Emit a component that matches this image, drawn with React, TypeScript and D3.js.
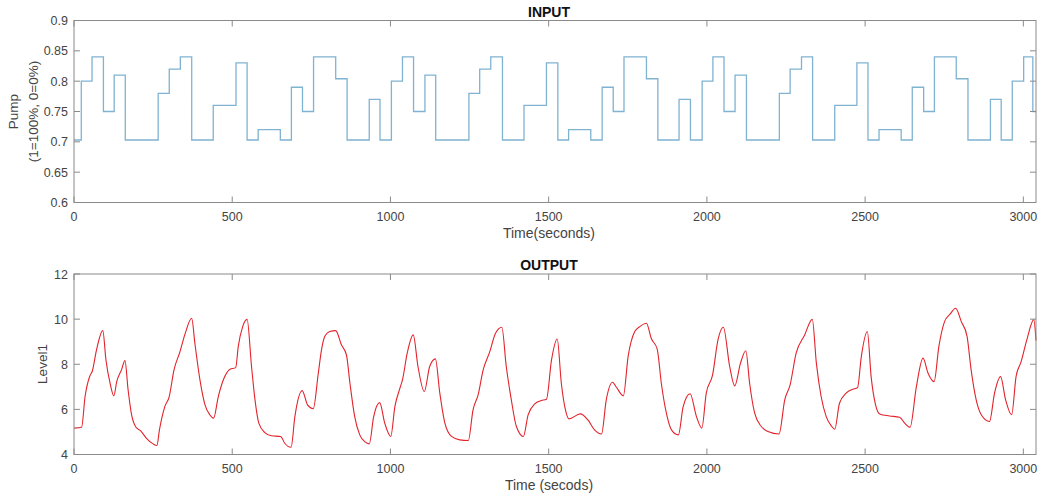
import React from "react";
import * as d3 from "d3";

const inputTimes = [0, 23, 57, 93, 127, 162, 266, 301, 336, 372, 440, 512, 547, 582, 652, 687, 722, 757, 827, 863, 933, 967, 1003, 1038, 1073, 1109, 1143, 1248, 1282, 1317, 1354, 1422, 1493, 1529, 1563, 1633, 1669, 1704, 1738, 1809, 1845, 1912, 1948, 1985, 2019, 2054, 2089, 2125, 2229, 2263, 2299, 2334, 2404, 2474, 2509, 2544, 2614, 2649, 2685, 2719, 2788, 2825, 2896, 2930, 2965, 3001, 3030, 3040];
const inputLevels = [0.703, 0.80, 0.84, 0.75, 0.81, 0.703, 0.78, 0.82, 0.84, 0.703, 0.76, 0.83, 0.703, 0.72, 0.703, 0.79, 0.75, 0.84, 0.804, 0.703, 0.77, 0.703, 0.80, 0.84, 0.75, 0.81, 0.703, 0.78, 0.82, 0.84, 0.703, 0.76, 0.83, 0.703, 0.72, 0.703, 0.79, 0.75, 0.84, 0.804, 0.703, 0.77, 0.703, 0.80, 0.84, 0.75, 0.81, 0.703, 0.78, 0.82, 0.84, 0.703, 0.76, 0.83, 0.703, 0.72, 0.703, 0.79, 0.75, 0.84, 0.804, 0.703, 0.77, 0.703, 0.80, 0.84, 0.75, 0.75];

const outputTimes = [0, 24, 35, 50, 58, 71, 91, 101, 114, 126, 135, 150, 161, 171, 182, 196, 210, 229, 250, 262, 270, 287, 301, 316, 335, 350, 372, 382, 398, 414, 429, 441, 456, 474, 493, 511, 519, 533, 547, 561, 572, 584, 603, 624, 653, 666, 686, 698, 721, 738, 756, 772, 782, 793, 808, 827, 845, 861, 872, 887, 903, 919, 933, 947, 966, 982, 1001, 1014, 1030, 1038, 1053, 1072, 1087, 1107, 1124, 1142, 1156, 1172, 1193, 1219, 1246, 1261, 1277, 1293, 1314, 1332, 1352, 1366, 1382, 1398, 1420, 1435, 1456, 1477, 1493, 1509, 1527, 1540, 1553, 1564, 1600, 1624, 1645, 1667, 1682, 1702, 1714, 1736, 1751, 1772, 1788, 1809, 1824, 1843, 1856, 1872, 1888, 1910, 1925, 1947, 1967, 1984, 1998, 2018, 2035, 2052, 2072, 2088, 2106, 2123, 2135, 2151, 2172, 2193, 2228, 2246, 2263, 2282, 2309, 2333, 2346, 2361, 2377, 2393, 2404, 2419, 2440, 2461, 2476, 2488, 2507, 2519, 2533, 2546, 2577, 2609, 2625, 2642, 2662, 2683, 2699, 2718, 2733, 2751, 2769, 2786, 2804, 2822, 2835, 2851, 2867, 2893, 2909, 2928, 2944, 2963, 2977, 2993, 3011, 3033, 3040];
const outputValues = [5.17, 5.21, 6.57, 7.48, 7.70, 8.63, 9.49, 8.19, 7.16, 6.60, 7.23, 7.75, 8.16, 6.86, 5.76, 5.21, 5.06, 4.72, 4.47, 4.40, 5.09, 6.12, 6.57, 7.75, 8.56, 9.30, 10.04, 8.93, 7.31, 6.20, 5.76, 5.61, 6.57, 7.38, 7.78, 7.85, 8.78, 9.67, 9.99, 7.90, 6.42, 5.39, 4.97, 4.83, 4.80, 4.50, 4.32, 5.68, 6.83, 6.20, 6.03, 7.60, 8.63, 9.25, 9.45, 9.49, 8.86, 8.41, 7.16, 5.68, 4.87, 4.57, 4.47, 5.68, 6.30, 5.39, 4.80, 6.12, 6.94, 7.31, 8.49, 9.30, 7.90, 6.79, 7.90, 8.24, 6.72, 5.39, 4.80, 4.65, 4.62, 5.98, 6.64, 7.75, 8.56, 9.37, 9.64, 7.90, 6.42, 5.24, 4.80, 5.76, 6.24, 6.39, 6.45, 8.19, 9.12, 7.16, 5.98, 5.58, 5.80, 5.53, 5.09, 4.91, 6.42, 7.20, 6.98, 6.60, 8.34, 9.45, 9.67, 9.82, 9.15, 8.67, 7.16, 5.83, 5.09, 4.87, 6.12, 6.69, 5.68, 5.17, 6.72, 7.53, 9.08, 9.64, 7.90, 7.04, 8.04, 8.60, 7.16, 5.83, 5.24, 5.02, 4.91, 6.42, 7.09, 8.49, 9.30, 9.99, 8.04, 6.57, 5.68, 5.27, 5.12, 6.27, 6.72, 6.89, 6.96, 8.34, 9.45, 7.45, 6.20, 5.80, 5.71, 5.65, 5.39, 5.21, 7.01, 8.27, 7.60, 7.23, 8.78, 9.89, 10.23, 10.48, 9.89, 9.25, 7.75, 6.42, 5.76, 5.46, 6.72, 7.45, 6.42, 5.76, 7.45, 8.12, 9.08, 9.98, 9.05];

const xTicks = [0, 500, 1000, 1500, 2000, 2500, 3000];
const inputYTicks = [0.6, 0.65, 0.7, 0.75, 0.8, 0.85, 0.9];
const outputYTicks = [4, 6, 8, 10, 12];

const FONT = "'Liberation Sans', Arial, sans-serif";
const AXIS = "#8a8a8a";
const TXT = "#444";

type PanelProps = {
  top: number;
  bottom: number;
  yDomain: [number, number];
  yTicks: number[];
  title: string;
  xLabel: string;
  children: (x: d3.ScaleLinear<number, number>, y: d3.ScaleLinear<number, number>) => React.ReactNode;
  yLabel: React.ReactNode;
};

const LEFT = 74;
const RIGHT = 1036;

function Panel({ top, bottom, yDomain, yTicks, title, xLabel, children, yLabel }: PanelProps) {
  const x = d3.scaleLinear().domain([0, 3040]).range([LEFT, RIGHT]);
  const y = d3.scaleLinear().domain(yDomain).range([bottom, top]);
  const tl = 6;
  const cx = (LEFT + RIGHT) / 2;
  return (
    <g>
      <text x={cx - 6} y={top - 4} textAnchor="middle" fontFamily={FONT} fontSize={14} fontWeight="bold" fill="#111">{title}</text>
      {children(x, y)}
      <rect x={LEFT} y={top} width={RIGHT - LEFT} height={bottom - top} fill="none" stroke={AXIS} strokeWidth={1} />
      {xTicks.map((t) => (
        <g key={"x" + t}>
          <line x1={x(t)} x2={x(t)} y1={bottom} y2={bottom - tl} stroke={AXIS} />
          <line x1={x(t)} x2={x(t)} y1={top} y2={top + tl} stroke={AXIS} />
          <text x={x(t)} y={bottom + 18} textAnchor="middle" fontFamily={FONT} fontSize={12.5} fill={TXT}>{t}</text>
        </g>
      ))}
      {yTicks.map((t) => (
        <g key={"y" + t}>
          <line x1={LEFT} x2={LEFT + tl} y1={y(t)} y2={y(t)} stroke={AXIS} />
          <line x1={RIGHT} x2={RIGHT - tl} y1={y(t)} y2={y(t)} stroke={AXIS} />
          <text x={LEFT - 6} y={y(t) + 4.5} textAnchor="end" fontFamily={FONT} fontSize={12.5} fill={TXT}>{String(t)}</text>
        </g>
      ))}
      <text x={cx - 6} y={bottom + 35} textAnchor="middle" fontFamily={FONT} fontSize={14} fill={TXT}>{xLabel}</text>
      {yLabel}
    </g>
  );
}

export default function App() {
  const inputData = inputTimes.map((t, i) => [t, inputLevels[i]] as [number, number]);
  const outputData = outputTimes.map((t, i) => [t, outputValues[i]] as [number, number]);
  return (
    <svg width={1041} height={498} style={{ position: "absolute", left: 0, top: 0, background: "#fff" }}>
      <Panel
        top={20.5}
        bottom={202.5}
        yDomain={[0.6, 0.9]}
        yTicks={inputYTicks}
        title="INPUT"
        xLabel="Time(seconds)"
        yLabel={
          <g fontFamily={FONT} fontSize={13.5} fill={TXT}>
            <text transform="translate(18,111.5) rotate(-90)" textAnchor="middle">Pump</text>
            <text transform="translate(38,111.5) rotate(-90)" textAnchor="middle">(1=100%, 0=0%)</text>
          </g>
        }
      >
        {(x, y) => (
          <path
            d={d3.line<[number, number]>().x((d) => x(d[0])).y((d) => y(d[1])).curve(d3.curveStepAfter)(inputData) || ""}
            fill="none"
            stroke="#7fb3d1"
            strokeWidth={1.3}
          />
        )}
      </Panel>
      <Panel
        top={274}
        bottom={454.5}
        yDomain={[4, 12]}
        yTicks={outputYTicks}
        title="OUTPUT"
        xLabel="Time (secods)"
        yLabel={
          <g fontFamily={FONT} fontSize={13.5} fill={TXT}>
            <text transform="translate(47,364) rotate(-90)" textAnchor="middle">Level1</text>
          </g>
        }
      >
        {(x, y) => (
          <path
            d={d3.line<[number, number]>().x((d) => x(d[0])).y((d) => y(d[1])).curve(d3.curveMonotoneX)(outputData) || ""}
            fill="none"
            stroke="#e2232b"
            strokeWidth={1.1}
            strokeLinejoin="round"
          />
        )}
      </Panel>
    </svg>
  );
}
